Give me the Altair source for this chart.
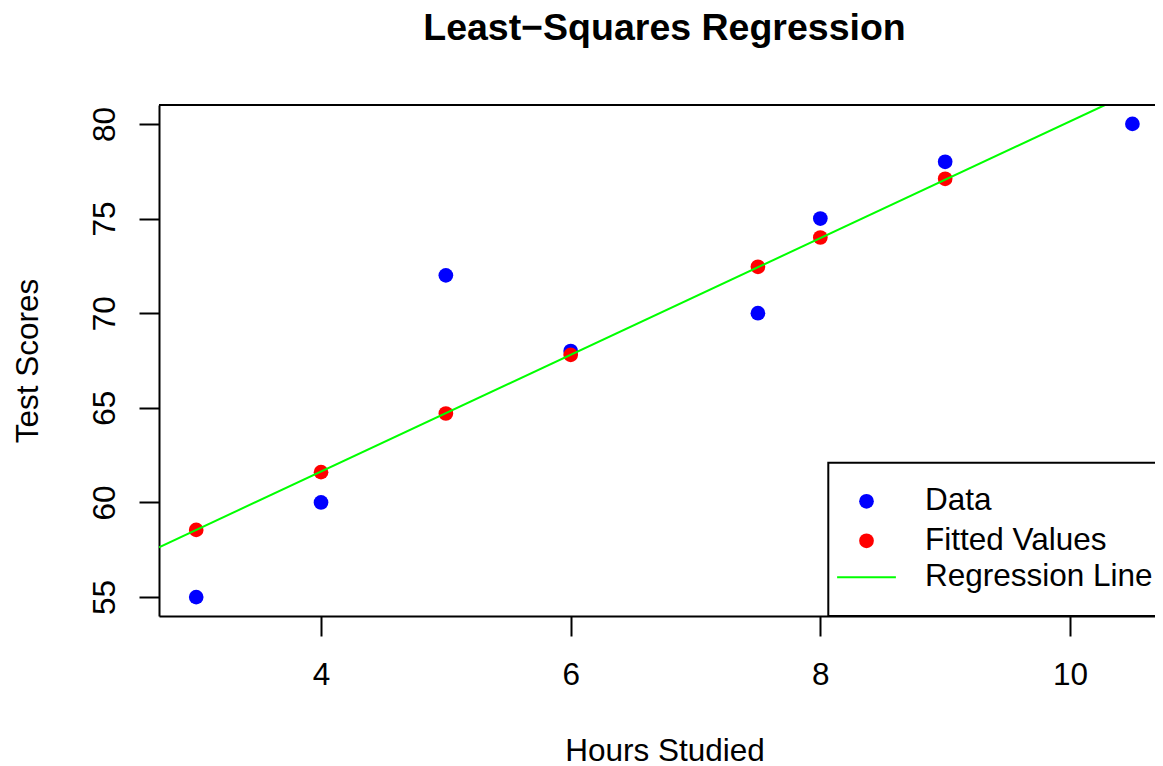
import altair as alt
import pandas as pd

FONT = "Liberation Sans"

# Observed data
hours = [3, 4, 5, 6, 7.5, 8, 9, 10.5]
scores = [55, 60, 72, 68, 70, 75, 78, 80]

# Fitted values
fit_hours = [3, 4, 5, 6, 7.5, 8, 9]
fitted = [58.55, 61.6, 64.7, 67.8, 72.45, 74.0, 77.1]

# Regression line (where it meets the plot frame)
line_hours = [2.702, 10.28]
line_scores = [57.63, 81.0]

x_ticks = [4, 6, 8, 10]
y_ticks = [55, 60, 65, 70, 75, 80]
point_series = ["Data", "Fitted Values"]
point_colors = ["#0000ff", "#ff0000"]
line_series = ["Regression Line"]
line_colors = ["#00ff00"]

W, H = 996, 511

pts = pd.DataFrame({
    "x": hours + fit_hours,
    "y": scores + fitted,
    "series": ["Data"] * len(hours) + ["Fitted Values"] * len(fit_hours),
})
line_df = pd.DataFrame({"x": line_hours, "y": line_scores, "series": line_series * len(line_hours)})
one = pd.DataFrame({"k": [0]})

xscale = alt.Scale(domain=[2.702, 10.681], nice=False, zero=False)
yscale = alt.Scale(domain=[54, 81], nice=False, zero=False)

xaxis = alt.Axis(
    values=x_ticks, format="d", grid=False, title="Hours Studied",
    domainColor="black", domainWidth=2, tickColor="black", tickWidth=2, tickSize=20,
    labelFont=FONT, labelFontSize=31.5, labelColor="black", labelPadding=48,
    labelBaseline="alphabetic", labelAlign="center",
    titleFont=FONT, titleFontSize=31.5, titleFontWeight="normal", titleColor="black",
    titleBaseline="alphabetic", titleAlign="center", titleX=505.5, titleY=144.7,
)
yaxis = alt.Axis(
    values=y_ticks, format="d", grid=False, title="Test Scores",
    domainColor="black", domainWidth=2, tickColor="black", tickWidth=2, tickSize=20,
    labelFont=FONT, labelFontSize=31.5, labelColor="black", labelPadding=25,
    labelAngle=270, labelBaseline="alphabetic", labelAlign="center",
    titleFont=FONT, titleFontSize=31.5, titleFontWeight="normal", titleColor="black",
    titleAngle=270, titleBaseline="alphabetic", titleAlign="center", titleX=-122, titleY=255.5,
)

common_legend = dict(
    title=None, orient="none", padding=0, labelLimit=500,
    labelFont=FONT, labelFontSize=31.5, labelColor="black", labelOffset=42.75,
    symbolSize=216, rowPadding=6.5, symbolOpacity=1,
)
point_legend = alt.Legend(legendX=691.75, legendY=380.55, **common_legend)
line_legend = alt.Legend(
    legendX=691.75, legendY=456.55, symbolType="M-4,0H4", symbolStrokeWidth=2,
    **common_legend,
)

legend_frame = alt.Chart(one).mark_rect(fill="white", stroke="black", strokeWidth=2).encode(
    x=alt.value(669.3), x2=alt.value(1030), y=alt.value(357.7), y2=alt.value(511)
)

points = alt.Chart(pts).mark_circle(size=216, opacity=1).encode(
    x=alt.X("x:Q", scale=xscale, axis=xaxis),
    y=alt.Y("y:Q", scale=yscale, axis=yaxis),
    color=alt.Color("series:N", scale=alt.Scale(domain=point_series, range=point_colors),
                    legend=point_legend),
    order=alt.Order("series:N"),
)

line = alt.Chart(line_df).mark_line(strokeWidth=2, clip=True).encode(
    x=alt.X("x:Q", scale=xscale),
    y=alt.Y("y:Q", scale=yscale),
    stroke=alt.Stroke("series:N", scale=alt.Scale(domain=line_series, range=line_colors),
                      legend=line_legend),
)

top_border = alt.Chart(one).mark_rule(color="black", strokeWidth=2).encode(
    x=alt.value(0), x2=alt.value(W), y=alt.value(0)
)

chart = alt.layer(points, line, legend_frame, top_border).properties(
    width=W, height=H,
    title=alt.TitleParams(
        "Least\u2212Squares Regression", font=FONT, fontSize=37.5, fontWeight="bold",
        color="black", anchor="middle", frame="group", baseline="alphabetic",
        offset=27, dx=7.5,
    ),
    padding={"left": 151, "top": 97, "right": 0, "bottom": 152},
    autosize=alt.AutoSizeParams(type="none"),
).resolve_scale(color="independent", stroke="independent").configure_view(
    stroke=None
).configure(background="white")

chart.save("out.html", embed_options={"renderer": "svg", "actions": False})
